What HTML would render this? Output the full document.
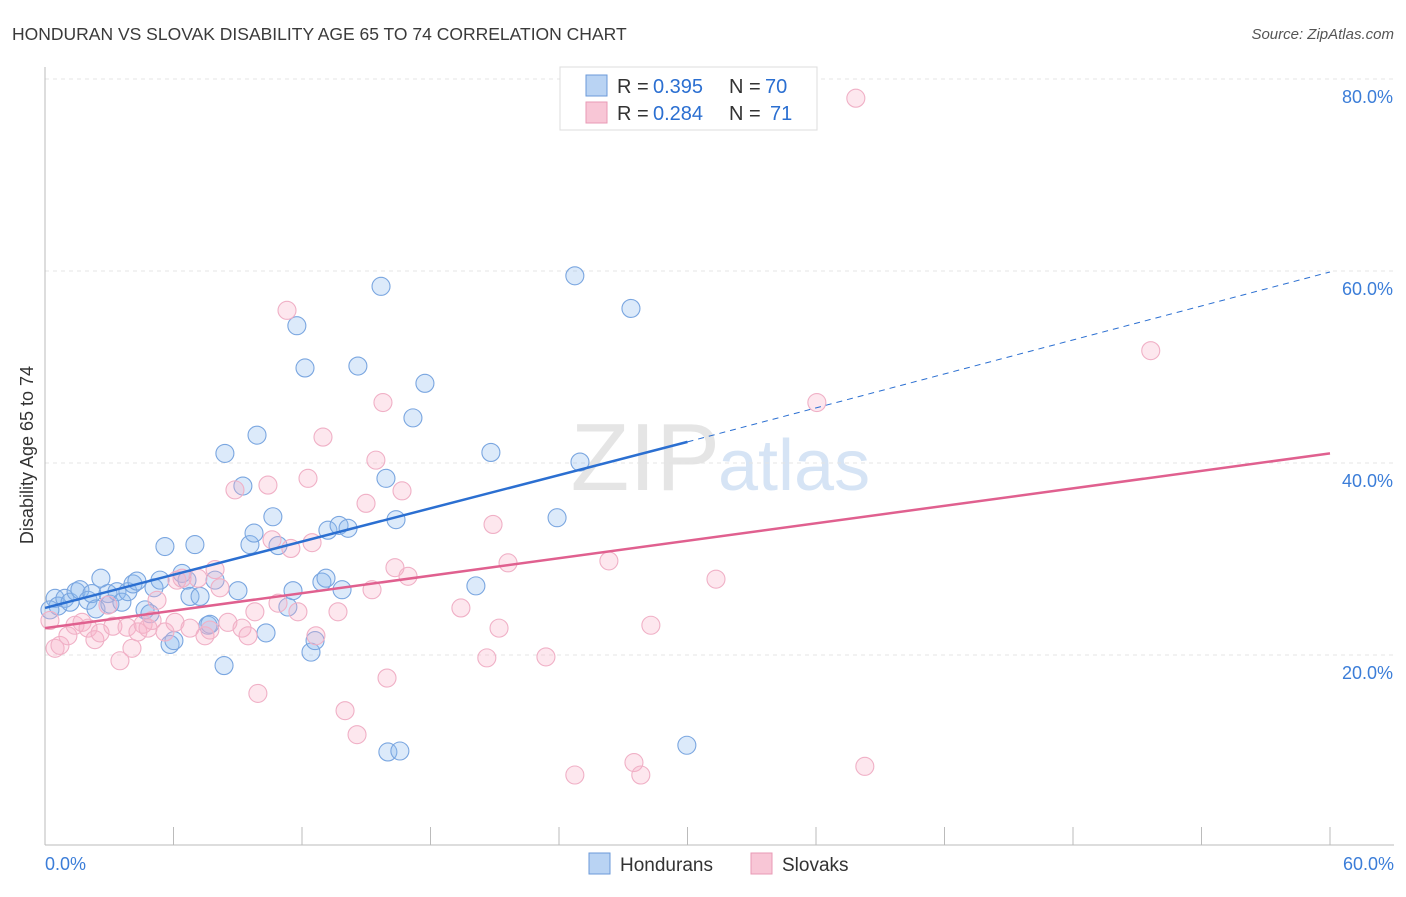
<!DOCTYPE html>
<html><head><meta charset="utf-8"><style>
body{margin:0;background:#fff;font-family:"Liberation Sans",sans-serif}
svg text{font-family:"Liberation Sans",sans-serif}
</style></head><body>
<svg id="chart" width="1406" height="892" viewBox="0 0 1406 892" xmlns="http://www.w3.org/2000/svg">
<text x="12" y="40" font-size="17.5" fill="#3a3a3a">HONDURAN VS SLOVAK DISABILITY AGE 65 TO 74 CORRELATION CHART</text>
<text x="1394" y="39" font-size="15" fill="#555" text-anchor="end" font-style="italic">Source: ZipAtlas.com</text>
<text x="720" y="490" font-size="96" fill="#e5e5e5" text-anchor="end" font-family="Liberation Serif">ZIP</text>
<text x="718" y="490" font-size="72" fill="#d6e4f5">atlas</text>
<g id="grid"></g>
<g id="axes"></g>
<g id="pts"></g>
<g id="lines"></g>
<text transform="translate(33,455) rotate(-90)" font-size="18" fill="#333" text-anchor="middle">Disability Age 65 to 74</text>
<g>
<rect x="560" y="67" width="257" height="63" fill="#fff" stroke="#ddd"/>
<rect x="586" y="75" width="21" height="21" fill="#b9d3f3" stroke="#6b9ad8"/>
<rect x="586" y="102" width="21" height="21" fill="#f8c6d6" stroke="#e89ab5"/>
<text x="617" y="93" font-size="20" fill="#333">R =</text>
<text x="653" y="93" font-size="20" fill="#2b6fd1">0.395</text>
<text x="729" y="93" font-size="20" fill="#333">N =</text>
<text x="765" y="93" font-size="20" fill="#2b6fd1">70</text>
<text x="617" y="120" font-size="20" fill="#333">R =</text>
<text x="653" y="120" font-size="20" fill="#2b6fd1">0.284</text>
<text x="729" y="120" font-size="20" fill="#333">N =</text>
<text x="770" y="120" font-size="20" fill="#2b6fd1">71</text>
</g>
<g>
<rect x="589" y="853" width="21" height="21" fill="#b9d3f3" stroke="#6b9ad8"/>
<text x="620" y="871" font-size="19" fill="#333">Hondurans</text>
<rect x="751" y="853" width="21" height="21" fill="#f8c6d6" stroke="#e89ab5"/>
<text x="782" y="871" font-size="19" fill="#333">Slovaks</text>
</g>
</svg>
<script>
const blueX=[0.47,0.61,0.93,1.17,1.45,1.63,2.01,2.19,2.38,2.61,2.94,3.03,3.36,3.59,3.87,4.11,4.29,4.67,4.90,5.09,5.37,5.60,5.84,6.02,6.40,6.63,6.77,7.00,7.24,7.61,7.70,7.94,8.40,8.36,9.01,9.24,9.57,9.76,9.90,10.32,10.64,10.88,11.34,11.58,11.76,12.14,12.42,12.61,12.93,13.12,13.21,13.73,13.87,14.15,14.61,15.69,15.92,16.01,16.39,16.57,17.18,17.74,20.12,20.82,23.91,24.74,24.98,27.36,29.97,0.23];
const blueY=[25.9,25.1,25.9,25.5,26.6,26.8,25.7,26.4,24.8,28.0,26.4,25.3,26.6,25.5,26.6,27.4,27.7,24.7,24.3,27.0,27.8,31.3,21.1,21.5,28.5,27.8,26.1,31.5,26.1,23.1,23.2,27.8,41.0,18.9,26.7,37.6,31.5,32.7,42.9,22.3,34.4,31.4,25.0,26.7,54.3,49.9,20.3,21.5,27.6,28.0,33.0,33.5,26.8,33.2,50.1,58.4,38.4,9.9,34.1,10.0,44.7,48.3,27.2,41.1,34.3,59.5,40.1,56.1,10.6,24.7];
const pinkX=[0.23,0.47,0.70,1.07,1.40,1.73,2.01,2.33,2.57,2.94,3.17,3.50,3.83,4.06,4.34,4.58,4.81,5.00,5.23,5.60,6.07,6.16,6.40,6.77,7.14,7.47,7.70,7.94,8.17,8.54,8.87,9.20,9.48,9.80,9.94,10.41,10.60,10.88,11.30,11.48,11.81,12.28,12.47,12.65,12.98,13.68,14.01,14.57,14.99,15.27,15.45,15.78,15.97,16.34,16.67,16.95,19.42,20.63,20.92,21.20,21.62,23.39,24.74,26.33,27.50,27.82,28.29,31.33,36.04,37.86,38.28,51.63];
const pinkY=[23.6,20.7,21.0,22.0,23.1,23.4,22.8,21.6,22.3,25.2,23.0,19.4,22.9,20.7,22.4,23.2,22.8,23.6,25.7,22.4,23.4,27.8,28.0,22.8,28.0,22.0,22.6,28.9,27.0,23.4,37.2,22.8,22.0,24.5,16.0,37.7,32.0,25.4,55.9,31.1,24.5,38.4,31.7,22.0,42.7,24.5,14.2,11.7,35.8,26.8,40.3,46.3,17.6,29.1,37.1,28.2,24.9,19.7,33.6,22.8,29.6,19.8,7.5,29.8,8.8,7.5,23.1,27.9,46.3,78.0,8.4,51.7];
const blueLine=[24.9,42.2,59.9]; // y at x=0, 30 (solid end), 60 (dashed end)
const pinkLine=[22.8,41.0]; // y at x=0, 60
const yTicks=[20,40,60,80];
const yTickLabels=["20.0%","40.0%","60.0%","80.0%"];
const xTicks=[0,6,12,18,24,30,36,42,48,54,60];
const NS="http://www.w3.org/2000/svg";
const sx=v=>45+v/60*1285;
const sy=v=>847-v*9.6;
function mk(tag,attrs,parent){const e=document.createElementNS(NS,tag);for(const k in attrs)e.setAttribute(k,attrs[k]);parent.appendChild(e);return e;}
const grid=document.getElementById('grid'),axes=document.getElementById('axes'),pts=document.getElementById('pts'),lines=document.getElementById('lines');
yTicks.forEach((t,i)=>{
 const l=mk('line',{x1:45,x2:1394,y1:sy(t),y2:sy(t),stroke:'#e4e4e4','stroke-dasharray':'4,4'},grid);
 
 
 const tx=mk('text',{x:1393,y:sy(t)+24,'font-size':18,fill:'#3b7dd8','text-anchor':'end'},axes);
 tx.textContent=yTickLabels[i];
 
 
});
const ax=mk('line',{x1:45,x2:1394,y1:845,y2:845,stroke:'#bbb'},axes);


const ay=mk('line',{x1:45,x2:45,y1:67,y2:845,stroke:'#bbb'},axes);


xTicks.forEach(t=>{
 const l=mk('line',{x1:sx(t),x2:sx(t),y1:827,y2:845,stroke:'#bbb'},axes);
 
 
});
const x0=mk('text',{x:45,y:870,'font-size':18,fill:'#3b7dd8'},axes);x0.textContent='0.0%';


const x1=mk('text',{x:1394,y:870,'font-size':18,fill:'#3b7dd8','text-anchor':'end'},axes);x1.textContent='60.0%';


blueX.forEach((v,i)=>{
 const c=mk('circle',{cx:sx(v),cy:sy(blueY[i]),r:9,fill:'rgba(140,185,240,0.3)',stroke:'#7aa6e0','stroke-width':1.1},pts);
 
 
});
pinkX.forEach((v,i)=>{
 const c=mk('circle',{cx:sx(v),cy:sy(pinkY[i]),r:9,fill:'rgba(248,175,200,0.3)',stroke:'#f0b0c6','stroke-width':1.1},pts);
 
 
});
const bl=mk('line',{x1:sx(0),y1:sy(blueLine[0]),x2:sx(30),y2:sy(blueLine[1]),stroke:'#2b6fd1','stroke-width':2.5},lines);


const bd=mk('line',{x1:sx(30),y1:sy(blueLine[1]),x2:sx(60),y2:sy(blueLine[2]),stroke:'#2b6fd1','stroke-width':1,'stroke-dasharray':'6,5'},lines);


const pl=mk('line',{x1:sx(0),y1:sy(pinkLine[0]),x2:sx(60),y2:sy(pinkLine[1]),stroke:'#e0608f','stroke-width':2.5},lines);


</script>
</body></html>
